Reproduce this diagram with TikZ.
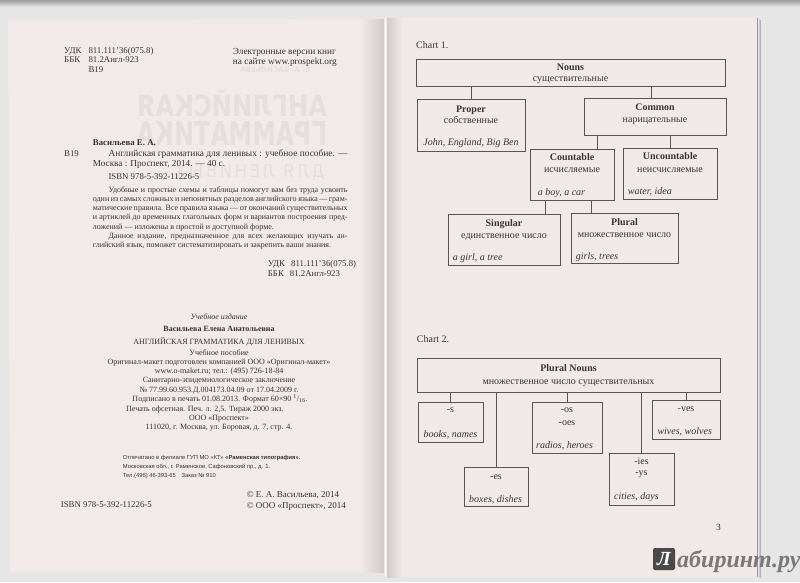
\documentclass[tikz,border=0pt]{standalone}
\usepackage{fontspec}
\usepackage{graphicx}
\setmainfont{Liberation Serif}
\newfontfamily\sansf{Liberation Sans}
\newfontfamily\ghostf{DejaVu Sans}
\definecolor{bg}{HTML}{E6E6E6}
\definecolor{pageL}{HTML}{F2EAE8}
\definecolor{pageR}{HTML}{F1E9E7}
\definecolor{ink}{HTML}{363232}
\definecolor{chartink}{HTML}{3A3636}
\definecolor{boxline}{HTML}{5A5555}
\definecolor{ghost}{HTML}{E6DEDC}
\definecolor{spine}{HTML}{D2CAC8}
\definecolor{logo}{HTML}{4A4848}
\definecolor{logotext}{HTML}{7A7878}
\begin{document}
\begin{tikzpicture}[x=1pt,y=-1pt,
  tl/.style={anchor=base west, inner sep=0pt, text=ink},
  tc/.style={anchor=base, inner sep=0pt, text=ink},
  cbox/.style={draw=boxline, line width=0.8pt, inner sep=0pt},
  link/.style={draw=boxline, line width=0.8pt},
  ctxt/.style={anchor=base, inner sep=0pt, text=chartink, font=\fontsize{10}{12}\selectfont},
  ctitle/.style={anchor=base, inner sep=0pt, text=chartink, font=\fontsize{10}{12}\selectfont\bfseries},
  cexc/.style={anchor=base, inner sep=0pt, text=chartink, font=\fontsize{10}{12}\selectfont\itshape},
  cex/.style={anchor=base west, inner sep=0pt, text=chartink, font=\fontsize{10}{12}\selectfont\itshape},
  small/.style={font=\fontsize{8}{9}\selectfont},
  bib/.style={font=\fontsize{8.8}{10}\selectfont},
  imp/.style={font=\fontsize{8}{9}\selectfont},
  tiny/.style={font=\sansf\fontsize{5.8}{7}\selectfont},
  ghostnode/.style={inner sep=0pt, text=ghost, transform shape},
]
\useasboundingbox (0,0) rectangle (800,582);
\clip (0,0) rectangle (800,582);
% background
\fill[bg] (0,0) rectangle (800,582);
\shade[top color=gray!75, bottom color=bg] (0,0) rectangle (800,7);
% pages
\fill[pageL] (8,20) -- (385,19) -- (385,572) -- (10,572) -- cycle;
\shade[left color=pageL, right color=spine] (360,19) rectangle (384,572);
\fill[pageR] (385,18) rectangle (757,577);
\shade[left color=spine, right color=pageR] (387,18) rectangle (402,577);
\draw[white, line width=1.2pt] (385.8,18) -- (385.8,577);
\draw[gray!80, line width=1.2pt] (757.6,18) -- (757.6,577);
\draw[violet!25, line width=0.8pt] (759.3,19) -- (759.3,578);
\draw[gray!60, line width=0.8pt] (760.8,20) -- (760.8,578);

% ghost (show-through of cover)
\begin{scope}[shift={(275,69.5)}, xscale=-1]
  \node[ghostnode] (g0) {\resizebox{70pt}{5.5pt}{\ghostf\bfseries Е. А. ВАСИЛЬЕВА}};
\end{scope}
\begin{scope}[shift={(232,103)}, xscale=-1]
  \node[ghostnode] (g1) {\resizebox{190pt}{27pt}{\ghostf\bfseries АНГЛИЙСКАЯ}};
\end{scope}
\begin{scope}[shift={(232,133)}, xscale=-1]
  \node[ghostnode] (g2) {\resizebox{190pt}{24pt}{\ghostf\bfseries ГРАММАТИКА}};
\end{scope}
\begin{scope}[shift={(250,172)}, xscale=-1]
  \node[ghostnode] (g3) {\resizebox{150pt}{13pt}{\ghostf Д\,Л\,Я\enspace Л\,Е\,Н\,И\,В\,Ы\,Х}};
\end{scope}

% ---------- left page ----------
\node[tl, bib] (udk1) at (64,53) {УДК};
\node[tl, bib] (udk1n) at (88.3,53) {811.111’36(075.8)};
\node[tl, bib] (bbk1) at (64,62.5) {ББК};
\node[tl, bib] (bbk1n) at (88.3,62.5) {81.2Англ-923};
\node[tl, bib] (v19a) at (88.3,72) {В19};
\node[tl, font=\fontsize{9.3}{11}\selectfont] (el1) at (232.7,54) {Электронные версии книг};
\node[tl, font=\fontsize{9.3}{11}\selectfont] (el2) at (232.7,64) {на сайте www.prospekt.org};

\node[tl, font=\fontsize{8.8}{10}\selectfont\bfseries] (auth) at (92.7,145.5) {Васильева Е. А.};
\node[tl, bib] (v19b) at (64,156) {В19};
\node[tl, font=\fontsize{9.4}{10}\selectfont] (ttl) at (108.3,156) {\hbox to 239pt{Английская грамматика для ленивых : учебное пособие. —}};
\node[tl, font=\fontsize{9.2}{10}\selectfont] (pub) at (92.7,166) {Москва : Проспект, 2014. — 40 с.};
\node[tl, bib] (isbn1) at (108.3,179) {ISBN 978-5-392-11226-5};

\node[tl, small] (p1) at (108.3,192.5) {\hbox to 239pt{Удобные и простые схемы и таблицы помогут вам без труда усвоить}};
\node[tl, small] (p2) at (92.7,201.5) {\hbox to 254.6pt{один из самых сложных и непонятных разделов английского языка — грам-}};
\node[tl, small] (p3) at (92.7,210.8) {\hbox to 254.6pt{матические правила. Все правила языка — от окончаний существительных}};
\node[tl, small] (p4) at (92.7,219.8) {\hbox to 254.6pt{и артиклей до временных глагольных форм и вариантов построения пред-}};
\node[tl, small] (p5) at (92.7,229.2) {ложений — изложены в простой и доступной форме.};
\node[tl, small] (p6) at (108.3,238.5) {\hbox to 239pt{Данное издание, предназначенное для всех желающих изучать ан-}};
\node[tl, small] (p7) at (92.7,247.5) {глийский язык, поможет систематизировать и закрепить ваши знания.};

\node[tl, bib] (udk2) at (267.7,266.5) {УДК\hspace{6pt}811.111’36(075.8)};
\node[tl, bib] (bbk2) at (267.7,276.5) {ББК\hspace{6pt}81.2Англ-923};

\node[tc, font=\fontsize{8}{9}\selectfont\itshape] (i1) at (219,319) {Учебное издание};
\node[tc, font=\fontsize{8}{9}\selectfont\bfseries] (i2) at (219,331.8) {Васильева Елена Анатольевна};
\node[tc, imp] (i3) at (219,344.5) {АНГЛИЙСКАЯ ГРАММАТИКА ДЛЯ ЛЕНИВЫХ};
\node[tc, imp] (i4) at (219,355) {Учебное пособие};
\node[tc, imp] (i5) at (219,364.5) {Оригинал-макет подготовлен компанией ООО «Оригинал-макет»};
\node[tc, imp] (i6) at (219,373.5) {www.o-maket.ru; тел.: (495) 726-18-84};
\node[tc, imp] (i7) at (219,382.5) {Санитарно-эпидемиологическое заключение};
\node[tc, imp] (i8) at (219,392) {№ 77.99.60.953.Д.004173.04.09 от 17.04.2009 г.};
\node[tc, imp] (i9) at (220,401.5) {Подписано в печать 01.08.2013. Формат 60×90 \textsuperscript{1}/\textsubscript{16}.};
\node[tl, imp] (i10) at (126,411) {Печать офсетная. Печ. л. 2,5. Тираж 2000 экз.};
\node[tc, imp] (i11) at (219,420) {ООО «Проспект»};
\node[tc, imp] (i12) at (219,429.5) {111020, г. Москва, ул. Боровая, д. 7, стр. 4.};

\node[tl, tiny] (s1) at (122.7,459.5) {Отпечатано в филиале ГУП МО «КТ» {\bfseries «Раменская типография».}};
\node[tl, tiny] (s2) at (122.7,468.8) {Московская обл., г. Раменское, Сафоновский пр., д. 1.};
\node[tl, tiny] (s3) at (122.7,477.8) {Тел.(496) 46-393-65\quad Заказ № 910};

\node[tl, bib] (isbn2) at (60.7,507.8) {ISBN 978-5-392-11226-5};
\node[tl, font=\fontsize{9}{10}\selectfont] (c1) at (246.7,497.8) {© Е. А. Васильева, 2014};
\node[tl, font=\fontsize{9}{10}\selectfont] (c2) at (246.7,508.5) {© ООО «Проспект», 2014};

% ---------- right page: Chart 1 ----------
\node[tl, text=chartink, font=\fontsize{10}{12}\selectfont] (ch1) at (416,48) {Chart 1.};

\node[cbox, minimum width=309pt, minimum height=27pt] (nouns) at (570.5,72.5) {};
\node[cbox, minimum width=108pt, minimum height=52pt] (proper) at (471,125) {};
\node[cbox, minimum width=142pt, minimum height=37pt] (common) at (655,116.5) {};
\node[cbox, minimum width=84pt, minimum height=51pt] (countable) at (572,174.5) {};
\node[cbox, minimum width=94pt, minimum height=51pt] (uncountable) at (670,173.5) {};
\node[cbox, minimum width=112pt, minimum height=51pt] (singular) at (504,239.5) {};
\node[cbox, minimum width=107pt, minimum height=50pt] (plural) at (624.5,238) {};

\draw[link] (proper.north) -- (proper.north |- nouns.south);
\draw[link] (common.north -| 651,0) -- (nouns.south -| 651,0);
\draw[link] (countable.north -| 597,0) -- (common.south -| 597,0);
\draw[link] (uncountable.north) -- (uncountable.north |- common.south);
\draw[link] (singular.north -| 545.7,0) -- (countable.south -| 545.7,0);
\draw[link] (plural.north -| 591,0) -- (countable.south -| 591,0);

\node[ctitle] (t-nouns) at (570.5,70.5) {Nouns};
\node[ctxt] (r-nouns) at (570.5,81.3) {существительные};
\node[ctitle] (t-proper) at (471,112) {Proper};
\node[ctxt] (r-proper) at (471,123) {собственные};
\node[cexc] (e-proper) at (471,145.7) {John, England, Big Ben};
\node[ctitle] (t-common) at (655,110.3) {Common};
\node[ctxt] (r-common) at (655,122) {нарицательные};
\node[ctitle] (t-count) at (572,160.3) {Countable};
\node[ctxt] (r-count) at (572,172.3) {исчисляемые};
\node[cex] (e-count) at (537.7,195.3) {a boy, a car};
\node[ctitle] (t-uncount) at (670,159.7) {Uncountable};
\node[ctxt] (r-uncount) at (670,172) {неисчисляемые};
\node[cex] (e-uncount) at (627.7,194.7) {water, idea};
\node[ctitle] (t-sing) at (504,226.3) {Singular};
\node[ctxt] (r-sing) at (504,238) {единственное число};
\node[cex] (e-sing) at (452.7,260.3) {a girl, a tree};
\node[ctitle] (t-plur) at (624.5,225.3) {Plural};
\node[ctxt] (r-plur) at (624.5,237.3) {множественное число};
\node[cex] (e-plur) at (575.7,259) {girls, trees};

% ---------- right page: Chart 2 ----------
\node[tl, text=chartink, font=\fontsize{10}{12}\selectfont] (ch2) at (416.7,342) {Chart 2.};

\node[cbox, minimum width=303pt, minimum height=34pt] (pn) at (568.5,375) {};
\node[cbox, minimum width=65pt, minimum height=40pt] (sfx-s) at (450.5,422) {};
\node[cbox, minimum width=70pt, minimum height=51pt] (sfx-os) at (567,427.5) {};
\node[cbox, minimum width=68pt, minimum height=39pt] (sfx-ves) at (686,419.5) {};
\node[cbox, minimum width=64pt, minimum height=39pt] (sfx-es) at (496,486.5) {};
\node[cbox, minimum width=65pt, minimum height=52pt] (sfx-ies) at (641.5,479) {};

\draw[link] (sfx-s.north) -- (sfx-s.north |- pn.south);
\draw[link] (sfx-es.north) -- (sfx-es.north |- pn.south);
\draw[link] (sfx-os.north) -- (sfx-os.north |- pn.south);
\draw[link] (sfx-ies.north) -- (sfx-ies.north |- pn.south);
\draw[link] (sfx-ves.north) -- (sfx-ves.north |- pn.south);

\node[ctitle] (t-pn) at (568.5,371.3) {Plural Nouns};
\node[ctxt] (r-pn) at (568.5,384) {множественное число существительных};
\node[ctxt] (l-s) at (450.5,412.5) {-s};
\node[cex] (e-s) at (423.3,437.3) {books, names};
\node[ctxt] (l-os) at (567,412.5) {-os};
\node[ctxt] (l-oes) at (567,425.8) {-oes};
\node[cex] (e-os) at (536,448) {radios, heroes};
\node[ctxt] (l-ves) at (686,411.8) {-ves};
\node[cex] (e-ves) at (657.3,434.7) {wives, wolves};
\node[ctxt] (l-es) at (496,479.8) {-es};
\node[cex] (e-es) at (469,502) {boxes, dishes};
\node[ctxt] (l-ies) at (641.5,464.8) {-ies};
\node[ctxt] (l-ys) at (641.5,475.8) {-ys};
\node[cex] (e-ies) at (614,499) {cities, days};

\node[tl, text=chartink, font=\fontsize{9.5}{11}\selectfont] (pg) at (716,530) {3};

% watermark
\node[fill=logo, rounded corners=2pt, minimum size=22pt, inner sep=0pt, text=white,
      font=\fontsize{20}{20}\selectfont\bfseries\itshape] (lablogo) at (664,559) {Л};
\node[anchor=base west, inner sep=0pt, text=logotext,
      font=\fontsize{24}{24}\selectfont\bfseries\itshape] (labtext) at (677,567) {абиринт.ру};
\end{tikzpicture}
\end{document}
